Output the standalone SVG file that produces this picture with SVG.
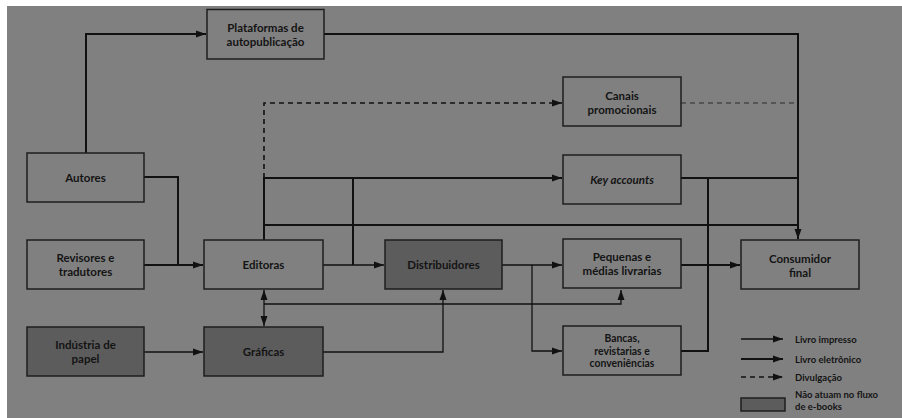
<svg xmlns="http://www.w3.org/2000/svg" width="902" height="418" viewBox="0 0 902 418">
<defs>
<style>
.box{fill:#808080;stroke:#1e1e1e;stroke-width:1.5}
.dark{fill:#5c5c5c}
.t{font-family:Lato,"Noto Sans",sans-serif;font-size:11.5px;font-weight:700;fill:#141414;text-anchor:middle}
.t3{font-size:10.4px}
.lg{font-family:Lato,"Noto Sans",sans-serif;font-size:9.5px;font-weight:700;fill:#141414}
.thick{fill:none;stroke:#111;stroke-width:2}
.thin{fill:none;stroke:#111;stroke-width:1.3}
.dash{fill:none;stroke:#111;stroke-width:1.6;stroke-dasharray:5 4}
.dash2{fill:none;stroke:#2a2a2a;stroke-width:1.2;stroke-dasharray:5 4}
</style>
<marker id="ah" markerUnits="userSpaceOnUse" markerWidth="11" markerHeight="8" refX="10" refY="4" orient="auto-start-reverse">
<path d="M0,0.5 L10,4 L0,7.5 z" fill="#111"/>
</marker>
</defs>
<rect x="0" y="0" width="902" height="418" fill="#ffffff"/>
<rect x="7" y="6" width="895" height="412" fill="#808080"/>

<g id="connectors">
<path class="thick" d="M86,153 V34 H206" marker-end="url(#ah)"/>
<path class="thick" d="M324,34 H798 V239" marker-end="url(#ah)"/>
<path class="thick" d="M264,240 V178 H562" marker-end="url(#ah)"/>
<path class="thick" d="M353,178 V265"/>
<path class="thick" d="M264,225 H798"/>
<path class="thick" d="M681,178 H798"/>
<path class="thick" d="M144,177 H178 V265"/>
<path class="thick" d="M144,265 H203" marker-end="url(#ah)"/>
<path class="thick" d="M681,351 H708 V178"/>
<path class="thick" d="M681,265 H740" marker-end="url(#ah)"/>
<path class="thin" d="M323,265 H384" marker-end="url(#ah)"/>
<path class="thin" d="M264,290 V326" marker-start="url(#ah)" marker-end="url(#ah)"/>
<path class="thin" d="M264,304 H621 V290" marker-end="url(#ah)"/>
<path class="thin" d="M323,352 H443 V290" marker-end="url(#ah)"/>
<path class="thin" d="M144,352 H203" marker-end="url(#ah)"/>
<path class="thin" d="M502,265 H562" marker-end="url(#ah)"/>
<path class="thin" d="M532,265 V351 H562" marker-end="url(#ah)"/>
<path class="dash" d="M264,178 V103 H562" marker-end="url(#ah)"/>
<path class="dash2" d="M681,103 H798"/>
</g>

<g id="plataformas"><rect class="box" x="207" y="9.5" width="117" height="49.5"/><text class="t" x="265.5" y="32">Plataformas de</text><text class="t" x="265.5" y="46">autopublicação</text></g>
<g id="canais"><rect class="box" x="563" y="77" width="118" height="49"/><text class="t" x="622" y="99.5">Canais</text><text class="t" x="622" y="113.5">promocionais</text></g>
<g id="key-accounts"><rect class="box" x="563" y="155" width="118" height="49"/><text class="t" x="622" y="183.5" font-style="italic">Key accounts</text></g>
<g id="autores"><rect class="box" x="27" y="153" width="117" height="49"/><text class="t" x="85.5" y="181.5">Autores</text></g>
<g id="revisores"><rect class="box" x="27" y="240" width="117" height="49"/><text class="t" x="85.5" y="261.5">Revisores e</text><text class="t" x="85.5" y="275.5">tradutores</text></g>
<g id="editoras"><rect class="box" x="204" y="240" width="119" height="49"/><text class="t" x="263.5" y="269">Editoras</text></g>
<g id="distribuidores"><rect class="box dark" x="385" y="240" width="117" height="49"/><text class="t" x="443.5" y="269">Distribuidores</text></g>
<g id="pequenas"><rect class="box" x="563" y="239" width="118" height="49"/><text class="t" x="622" y="261">Pequenas e</text><text class="t" x="622" y="275">médias livrarias</text></g>
<g id="consumidor"><rect class="box" x="741" y="240" width="118" height="49"/><text class="t" x="800" y="262.5">Consumidor</text><text class="t" x="800" y="276.5">final</text></g>
<g id="industria"><rect class="box dark" x="27" y="327" width="117" height="49"/><text class="t" x="85.5" y="349">Indústria de</text><text class="t" x="85.5" y="363">papel</text></g>
<g id="graficas"><rect class="box dark" x="204" y="327" width="119" height="49"/><text class="t" x="263.5" y="356">Gráficas</text></g>
<g id="bancas"><rect class="box" x="563" y="326" width="118" height="49"/><text class="t t3" x="622" y="342">Bancas,</text><text class="t t3" x="622" y="354.5">revistarias e</text><text class="t t3" x="622" y="367">conveniências</text></g>

<g id="legend">
<path class="thin" d="M741,339 H783" marker-end="url(#ah)"/>
<path class="thick" d="M741,359 H783" marker-end="url(#ah)"/>
<path class="dash" stroke-width="1.3" d="M741,377 H783" marker-end="url(#ah)"/>
<rect class="box dark" x="741" y="398" width="44" height="13"/>
<text class="lg" x="795" y="342.5">Livro impresso</text>
<text class="lg" x="795" y="362.5">Livro eletrônico</text>
<text class="lg" x="795" y="380.5">Divulgação</text>
<text class="lg" x="795" y="398">Não atuam no fluxo</text>
<text class="lg" x="795" y="409.5">de e-books</text>
</g>
</svg>
